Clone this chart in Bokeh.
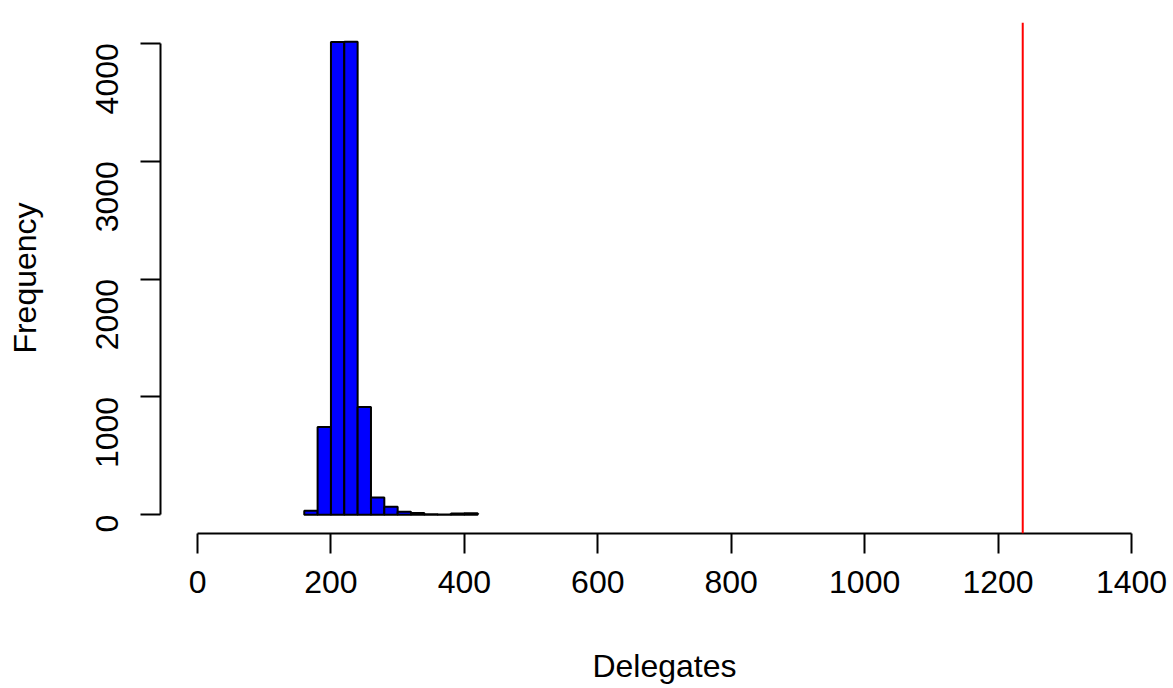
from bokeh.plotting import figure
from bokeh.models import Range1d, Span, FixedTicker
from bokeh.embed import file_html
from bokeh.resources import INLINE
import math

# data
bin_left = [160, 180, 200, 220, 240, 260, 280, 300, 320, 340, 360, 380, 400]
bin_width = 20
counts = [35, 745, 4010, 4012, 915, 147, 68, 25, 15, 5, 3, 10, 14]
delegates_needed = 1237
x_ticks = [0, 200, 400, 600, 800, 1000, 1200, 1400]
y_ticks = [0, 1000, 2000, 3000, 4000]
x_title = "Delegates"
y_title = "Frequency"

bin_right = [b + bin_width for b in bin_left]

FONT = "Liberation Sans"
FS = "32px"

p = figure(width=1168, height=688, output_backend="svg", toolbar_location=None,
           x_range=Range1d(-55.5, 1455.5), y_range=Range1d(-158.6, 4175.6),
           min_border_left=160, min_border_right=0, min_border_top=22,
           min_border_bottom=155)
p.outline_line_color = None
p.xgrid.visible = False
p.ygrid.visible = False
p.background_fill_color = "white"
p.border_fill_color = "white"

p.quad(left=bin_left, right=bin_right, bottom=[0] * len(counts), top=counts,
       fill_color="#0000FF", line_color="black", line_width=2)

p.add_layout(Span(location=delegates_needed, dimension="height",
                  line_color="#FF0000", line_width=2))

for ax in (p.xaxis[0], p.yaxis[0]):
    ax.axis_line_color = "black"
    ax.axis_line_width = 2
    ax.major_tick_line_width = 2
    ax.major_tick_out = 20
    ax.major_tick_in = 0
    ax.minor_tick_out = 0
    ax.minor_tick_in = 0
    ax.major_label_text_font = FONT
    ax.major_label_text_font_size = FS
    ax.major_label_text_color = "black"
    ax.axis_label_text_font = FONT
    ax.axis_label_text_font_size = FS
    ax.axis_label_text_font_style = "normal"
    ax.axis_label_text_color = "black"

xa = p.xaxis[0]
xa.ticker = FixedTicker(ticks=x_ticks)
xa.bounds = (x_ticks[0], x_ticks[-1])
xa.major_label_standoff = 17
xa.axis_label = x_title
xa.axis_label_standoff = 52

ya = p.yaxis[0]
ya.ticker = FixedTicker(ticks=y_ticks)
ya.bounds = (y_ticks[0], y_ticks[-1])
ya.major_label_orientation = math.pi / 2
ya.major_label_standoff = 33
ya.axis_label = y_title
ya.axis_label_standoff = 40

open("out.html", "w").write(file_html(p, INLINE))
